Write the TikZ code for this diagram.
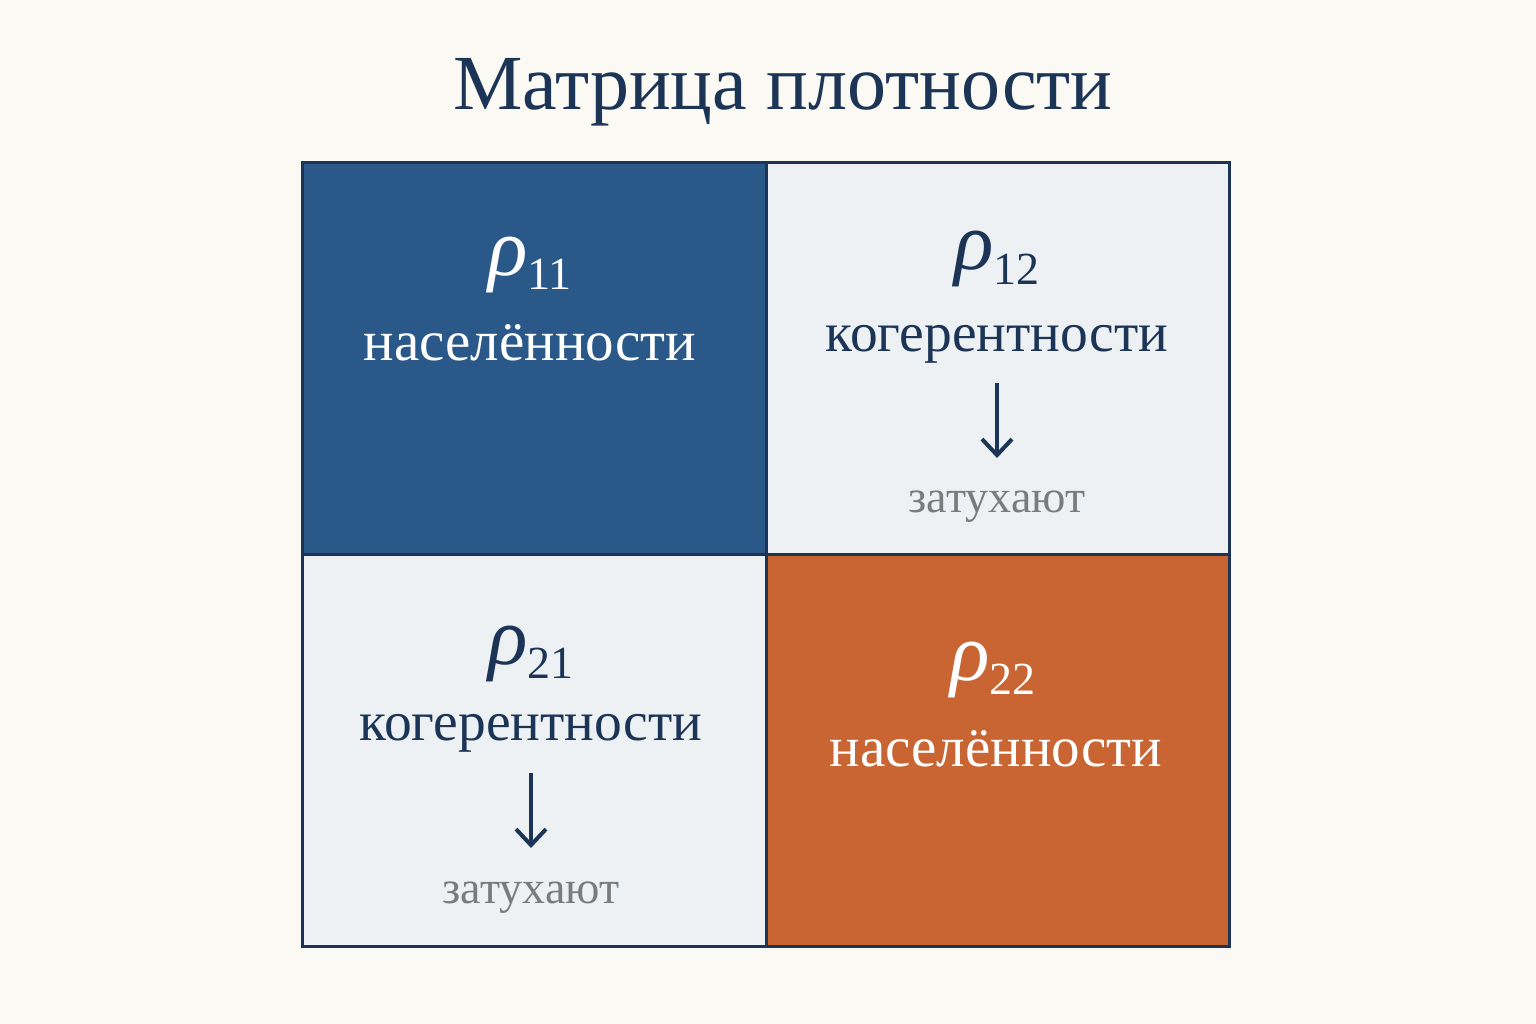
\documentclass[tikz,border=0pt]{standalone}
\usepackage{fontspec}
\setmainfont{Liberation Serif}
\usetikzlibrary{arrows.meta}
\definecolor{bgc}{HTML}{FBF9F3}
\definecolor{navy}{HTML}{1C3557}
\definecolor{cellblue}{HTML}{2A5888}
\definecolor{celllight}{HTML}{EEF1F4}
\definecolor{cellorange}{HTML}{C96433}
\definecolor{greytext}{HTML}{7B7B7B}
\tikzset{
  cellbox/.style={rectangle, inner sep=0pt, minimum width=463pt, minimum height=392pt},
  rholbl/.style={anchor=base, inner sep=0pt},
  wordlbl/.style={anchor=base, inner sep=0pt, font=\fontsize{57}{60}\selectfont},
  wordlblb/.style={anchor=base, inner sep=0pt, font=\fontsize{55.5}{60}\selectfont},
  fadelbl/.style={anchor=base, inner sep=0pt, font=\fontsize{46}{50}\selectfont, text=greytext},
  decay/.style={draw=navy, line width=4pt, -{Straight Barb[length=16pt,width=30pt,line width=4pt]}},
  gridline/.style={draw=navy, line width=3pt}
}
\newcommand{\rhosub}[1]{{\fontsize{82}{82}\selectfont\itshape ρ}\kern-1pt\raisebox{-14pt}{\fontsize{46}{46}\selectfont #1}}
\begin{document}
\begin{tikzpicture}[x=1pt,y=-1pt]
\useasboundingbox (0,0) rectangle (1536,1024);
\fill[bgc] (0,0) rectangle (1536,1024);
% title
\node[anchor=base, inner sep=0pt, text=navy, font=\fontsize{78}{80}\selectfont] (title) at (783,110) {Матрица плотности};
% cells
\node[cellbox, fill=cellblue] (c11) at (534.5,358.5) {};
\node[cellbox, fill=celllight] (c12) at (997.5,358.5) {};
\node[cellbox, fill=celllight] (c21) at (534.5,750.5) {};
\node[cellbox, fill=cellorange] (c22) at (997.5,750.5) {};
% grid lines
\draw[gridline] (c11.north west) rectangle (c22.south east);
\draw[gridline] (c11.north east) -- (c21.south east);
\draw[gridline] (c11.south west) -- (c12.south east);
% top-left
\node[rholbl, text=white] (r11) at (530,276) {\rhosub{11}};
\node[wordlbl, text=white] (w11) at (530,360) {населённости};
% top-right
\node[rholbl, text=navy] (r12) at (997,270) {\rhosub{12}};
\node[wordlblb, text=navy] (w12) at (997,351) {когерентности};
\coordinate (a12s) at (997,383);
\coordinate (a12e) at (997,458);
\draw[decay] (a12s) -- (a12e);
\node[fadelbl] (f12) at (997,512) {затухают};
% bottom-left
\node[rholbl, text=navy] (r21) at (531,664) {\rhosub{21}};
\node[wordlblb, text=navy] (w21) at (531,740) {когерентности};
\coordinate (a21s) at (531,773);
\coordinate (a21e) at (531,848);
\draw[decay] (a21s) -- (a21e);
\node[fadelbl] (f21) at (531,903) {затухают};
% bottom-right
\node[rholbl, text=white] (r22) at (993,680) {\rhosub{22}};
\node[wordlbl, text=white] (w22) at (996,766) {населённости};
\end{tikzpicture}
\end{document}
